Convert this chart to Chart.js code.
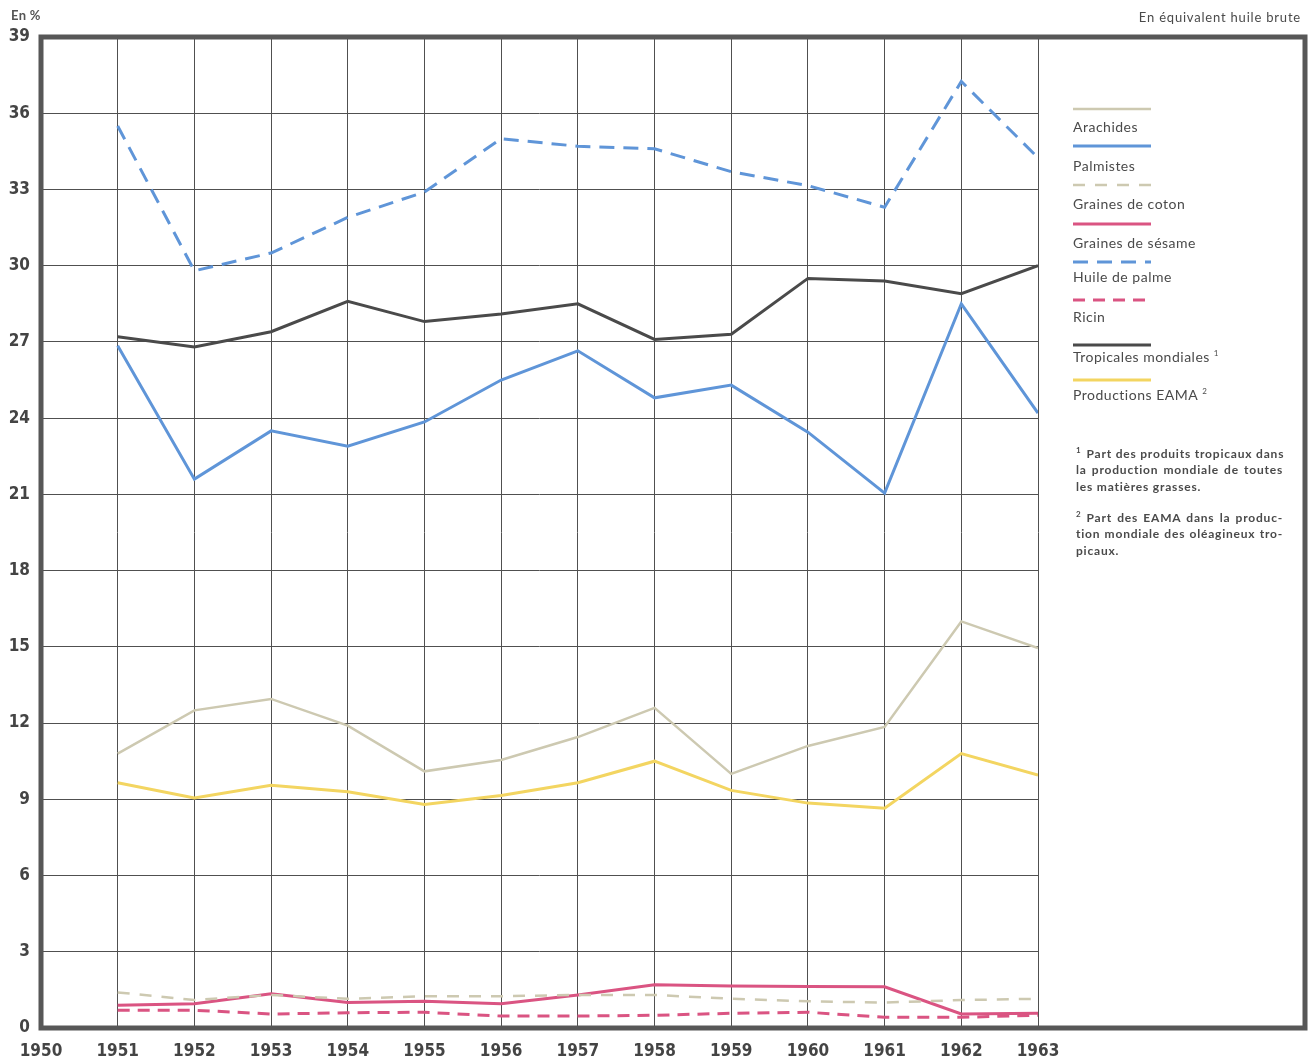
<!DOCTYPE html>
<html lang="fr">
<head>
<meta charset="utf-8">
<title>Part des oléagineux tropicaux</title>
<script src="https://cdn.jsdelivr.net/npm/chart.js@4.4.1/dist/chart.umd.min.js"></script>
<style>
  html, body { margin: 0; padding: 0; background: #fff; }
  #wrap { position: relative; width: 1313px; height: 1061px; overflow: hidden; }
  #chart { position: absolute; left: 0; top: 0; }
  .txt { position: absolute; font-family: Lato, "DejaVu Sans", sans-serif; color: #4a4a4a; white-space: nowrap; }
  #unit { left: 11px; top: 7px; font-size: 13px; font-weight: bold; color: #555; letter-spacing: 0.3px; }
  #basis { right: 12px; top: 9px; font-size: 13px; letter-spacing: 0.8px; }
  .sample { position: absolute; left: 1072px; }
  .label { position: absolute; left: 1073px; font-family: Lato, "DejaVu Sans", sans-serif; font-size: 14px; letter-spacing: 0.5px; color: #4a4a4a; line-height: 16px; white-space: nowrap; }
  .label sup { font-size: 8px; line-height: 0; vertical-align: 6px; margin-left: 4px; }
  .fn { position: absolute; left: 1076px; width: 207px; font-family: Lato, "DejaVu Sans", sans-serif; font-size: 12px; font-weight: bold; letter-spacing: 0.8px; color: #4a4a4a; line-height: 14px; white-space: nowrap; }
  .fn.j { text-align: justify; text-align-last: justify; }
  .fn sup { font-size: 8px; line-height: 0; vertical-align: 5px; margin-right: 5px; }
</style>
</head>
<body>
<div id="wrap">
  <canvas id="chart" width="1313" height="1061"></canvas>
  <div id="unit" class="txt">En %</div>
  <div id="basis" class="txt">En équivalent huile brute</div>
  <div id="legend"></div>
  <div class="fn j" style="top:447px"><sup>1</sup>Part des produits tropicaux dans</div>
  <div class="fn j" style="top:463px">la production mondiale de toutes</div>
  <div class="fn" style="top:480px">les matières grasses.</div>
  <div class="fn j" style="top:511px"><sup>2</sup>Part des EAMA dans la produc-</div>
  <div class="fn j" style="top:527px">tion mondiale des oléagineux tro-</div>
  <div class="fn" style="top:544px">picaux.</div>
</div>
<script>
// Données (en %, équivalent huile brute)
const years = [1951, 1952, 1953, 1954, 1955, 1956, 1957, 1958, 1959, 1960, 1961, 1962, 1963];
const xTicks = [1950, 1951, 1952, 1953, 1954, 1955, 1956, 1957, 1958, 1959, 1960, 1961, 1962, 1963];
const yTicks = [0, 3, 6, 9, 12, 15, 18, 21, 24, 27, 30, 33, 36, 39];

const arachides  = [10.8, 12.5, 12.95, 11.9, 10.1, 10.55, 11.45, 12.6, 10.0, 11.1, 11.85, 16.0, 14.95];
const palmistes  = [26.85, 21.6, 23.5, 22.9, 23.85, 25.5, 26.65, 24.8, 25.3, 23.45, 21.05, 28.5, 24.2];
const coton      = [1.4, 1.1, 1.3, 1.15, 1.25, 1.25, 1.3, 1.3, 1.15, 1.05, 1.0, 1.1, 1.15];
const sesame     = [0.9, 0.95, 1.35, 1.0, 1.05, 0.95, 1.3, 1.7, 1.65, 1.63, 1.62, 0.55, 0.58];
const palme      = [35.5, 29.8, 30.5, 31.9, 32.9, 35.0, 34.7, 34.6, 33.7, 33.15, 32.3, 37.25, 34.25];
const ricin      = [0.7, 0.7, 0.55, 0.6, 0.62, 0.47, 0.47, 0.5, 0.58, 0.62, 0.42, 0.42, 0.5];
const tropicales = [27.2, 26.8, 27.4, 28.6, 27.8, 28.1, 28.5, 27.1, 27.3, 29.5, 29.4, 28.9, 30.0];
const eama       = [9.65, 9.05, 9.55, 9.3, 8.8, 9.15, 9.65, 10.5, 9.35, 8.85, 8.65, 10.8, 9.95];

// couleurs
const BEIGE = '#cdc9b1';
const BLUE = '#5f95d8';
const PINK = '#da5482';
const DARK = '#4a4a4a';
const YELLOW = '#f3d561';
const GRID = '#505050';

// une série
function serie(label, values, color, width, dash, note) {
  return {
    label: label,
    note: note,
    data: values.map((v, i) => ({ x: years[i], y: v })),
    borderColor: color,
    backgroundColor: color,
    borderWidth: width,
    borderDash: dash || [],
    pointRadius: 0,
    tension: 0,
    fill: false
  };
}

const datasets = [
  serie('Arachides', arachides, BEIGE, 2.5),
  serie('Palmistes', palmistes, BLUE, 3),
  serie('Graines de coton', coton, BEIGE, 2.5, [12, 10]),
  serie('Graines de sésame', sesame, PINK, 3),
  serie('Huile de palme', palme, BLUE, 3, [15, 9]),
  serie('Ricin', ricin, PINK, 3, [12, 8]),
  serie('Tropicales mondiales', tropicales, DARK, 3, null, '1'),
  serie('Productions EAMA', eama, YELLOW, 3, null, '2')
];

// cadre épais autour du graphique et de la légende
const framePlugin = {
  id: 'frame',
  afterDraw(chart) {
    const { ctx, chartArea } = chart;
    ctx.save();
    ctx.strokeStyle = '#575757';
    ctx.lineWidth = 5;
    ctx.strokeRect(chartArea.left, chartArea.top, chart.width - 8 - chartArea.left, chartArea.bottom - chartArea.top);
    ctx.restore();
  }
};

const tickFont = { family: '"Liberation Sans Narrow", "DejaVu Sans Condensed", sans-serif', size: 17, weight: 'bold' };

const chart = new Chart(document.getElementById('chart'), {
  type: 'line',
  data: { datasets: datasets },
  options: {
    responsive: false,
    animation: false,
    devicePixelRatio: 1,
    layout: { padding: { top: 37, right: 275, left: 0, bottom: 0 } },
    plugins: {
      legend: { display: false },
      tooltip: { enabled: false }
    },
    scales: {
      x: {
        type: 'linear',
        min: 1950,
        max: 1963,
        afterBuildTicks: axis => { axis.ticks = xTicks.map(v => ({ value: v })); },
        afterFit: axis => { axis.height = 33; },
        ticks: {
          callback: v => String(v),
          font: tickFont,
          color: '#444',
          padding: 13,
          maxRotation: 0,
          autoSkip: false
        },
        grid: { color: GRID, lineWidth: 1, drawTicks: false },
        border: { display: false }
      },
      y: {
        min: 0,
        max: 39,
        afterBuildTicks: axis => { axis.ticks = yTicks.map(v => ({ value: v })); },
        afterFit: axis => { axis.width = 41; },
        ticks: {
          font: tickFont,
          color: '#444',
          padding: 11
        },
        grid: { color: GRID, lineWidth: 1, drawTicks: false },
        border: { display: false }
      }
    }
  },
  plugins: [framePlugin]
});

// légende : trait au-dessus du libellé
const legendLineY = [109, 146, 185, 224, 262, 300, 345, 380];
const legendTextY = [119, 158, 196, 235, 269, 309, 349, 387];
const legend = document.getElementById('legend');
chart.data.datasets.forEach((ds, i) => {
  const svg = document.createElementNS('http://www.w3.org/2000/svg', 'svg');
  svg.setAttribute('class', 'sample');
  svg.setAttribute('width', '82');
  svg.setAttribute('height', '8');
  svg.style.top = (legendLineY[i] - 4) + 'px';
  const line = document.createElementNS('http://www.w3.org/2000/svg', 'line');
  line.setAttribute('x1', '1');
  line.setAttribute('x2', '79');
  line.setAttribute('y1', '4');
  line.setAttribute('y2', '4');
  line.setAttribute('stroke', ds.borderColor);
  line.setAttribute('stroke-width', ds.borderWidth);
  if (ds.borderDash.length) line.setAttribute('stroke-dasharray', ds.borderDash.join(' '));
  svg.appendChild(line);
  legend.appendChild(svg);

  const lab = document.createElement('div');
  lab.className = 'label';
  lab.style.top = legendTextY[i] + 'px';
  lab.textContent = ds.label;
  if (ds.note) {
    const s = document.createElement('sup');
    s.textContent = ds.note;
    lab.appendChild(s);
  }
  legend.appendChild(lab);
});
</script>
</body>
</html>
